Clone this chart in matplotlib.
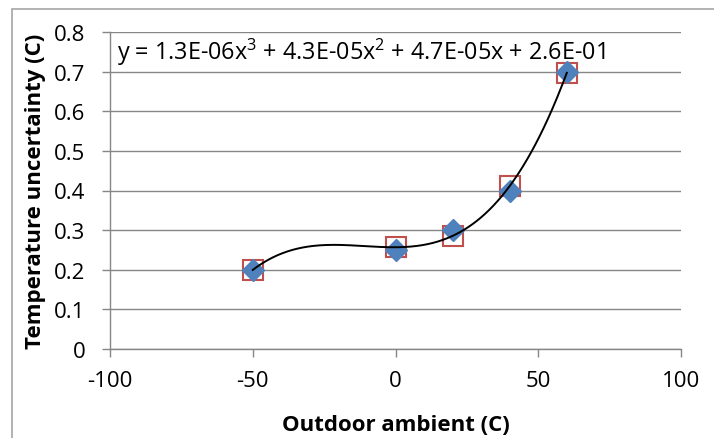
import numpy as np
import matplotlib
matplotlib.use("Agg")
import matplotlib.pyplot as plt
from matplotlib.patches import Rectangle

plt.rcParams['font.family'] = ['Open Sans', 'DejaVu Sans']
plt.rcParams['axes.unicode_minus'] = False
plt.rcParams['mathtext.fontset'] = 'custom'
plt.rcParams['mathtext.rm'] = 'Open Sans'

# Data
x_data = [-50, 0, 20, 40, 60]
y_data = [0.20, 0.25, 0.30, 0.40, 0.70]
x_ticks = [-100, -50, 0, 50, 100]
y_ticks = [0, 0.1, 0.2, 0.3, 0.4, 0.5, 0.6, 0.7, 0.8]
equation = "y = 1.3E-06x$^{3}$ + 4.3E-05x$^{2}$ + 4.7E-05x + 2.6E-01"
x_label = "Outdoor ambient (C)"
y_label = "Temperature uncertainty (C)"

coef = np.polyfit(x_data, y_data, 3)
poly = np.poly1d(coef)
y_fit = poly(x_data)
xc = np.linspace(min(x_data), max(x_data), 300)

fig = plt.figure(figsize=(7.14, 4.39), dpi=100)
fig.patches.append(Rectangle((12/714, -0.1), 1.2, 1.1 - 10/439, transform=fig.transFigure,
                             fill=False, edgecolor='#A6A6A6', linewidth=1.2))
ax = fig.add_axes([110/714, 1 - 350/439, (681-110)/714, (350-33)/439])

ax.plot(x_data, y_fit, linestyle='none', marker='s', markersize=14,
        markerfacecolor='none', markeredgecolor='#C0504D', markeredgewidth=1.5, zorder=3)
ax.plot(x_data, y_data, linestyle='none', marker='D', markersize=11,
        markerfacecolor='#4F81BD', markeredgecolor='#4F81BD', zorder=4)
ax.plot(xc, poly(xc), color='black', linewidth=1.4, zorder=5)

ax.set_xlim(-100, 100)
ax.set_ylim(0, 0.8)
ax.set_xticks(x_ticks)
ax.set_yticks(y_ticks)
ax.set_yticklabels(['0' if v == 0 else f'{v:.1f}' for v in y_ticks])
ax.grid(axis='y', color='#868686', linewidth=1.0)
ax.set_axisbelow(True)
for s in ['top', 'right']:
    ax.spines[s].set_visible(False)
for s in ['left', 'bottom']:
    ax.spines[s].set_color('#868686')
    ax.spines[s].set_linewidth(1.0)
ax.tick_params(axis='both', colors='#868686', labelcolor='black', labelsize=16,
               length=5.8, width=1.0)
ax.tick_params(axis='x', pad=9)
ax.tick_params(axis='y', pad=12)
ax.set_xlabel(x_label, fontsize=16, fontweight='bold', labelpad=17)
ax.set_ylabel(y_label, fontsize=16, fontweight='bold', labelpad=6)

ax.text(0.012, 0.94, equation, transform=ax.transAxes, fontsize=16.8,
        ha='left', va='center')

fig.savefig('out.png', dpi=100)
